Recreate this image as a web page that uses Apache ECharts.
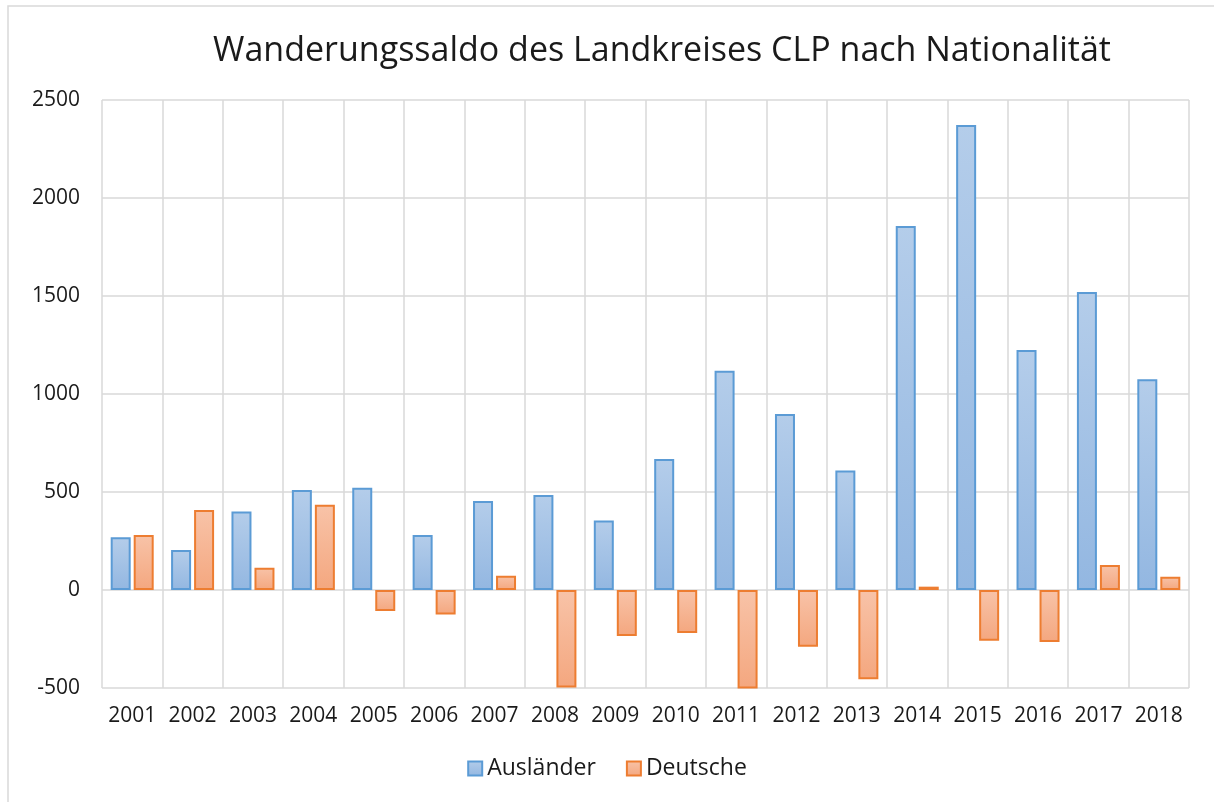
<!DOCTYPE html>
<html>
<head>
<meta charset="utf-8">
<script src="https://cdn.jsdelivr.net/npm/echarts@6/dist/echarts.min.js"></script>
<style>
  html, body { margin: 0; padding: 0; background: #fff; }
  #chart { width: 1214px; height: 802px; }
</style>
</head>
<body>
<div id="chart"></div>
<script>
// Jahre
const years = ['2001', '2002', '2003', '2004', '2005', '2006', '2007', '2008', '2009',
  '2010', '2011', '2012', '2013', '2014', '2015', '2016', '2017', '2018'];
// Wanderungssaldo Ausländer
const auslaender = [269, 204, 400, 510, 522, 281, 454, 485, 354,
  668, 1119, 898, 610, 1857, 2372, 1224, 1520, 1075];
// Wanderungssaldo Deutsche
const deutsche = [281, 408, 114, 435, -107, -125, 73, -498, -235,
  -219, -503, -290, -455, 17, -259, -265, 128, 68];
const yTicks = [-500, 0, 500, 1000, 1500, 2000, 2500];

const font = "'Open Sans', sans-serif";
const gridColor = '#d9d9d9';

function grad(top, bottom) {
  return new echarts.graphic.LinearGradient(0, 0, 0, 1, [
    { offset: 0, color: top },
    { offset: 1, color: bottom }
  ]);
}

const chart = echarts.init(document.getElementById('chart'));
const option = {
  animation: false,
  backgroundColor: '#fff',
  graphic: [{
    type: 'rect',
    shape: { x: 8, y: 6, width: 1230, height: 820 },
    style: { fill: 'none', stroke: '#d9d9d9', lineWidth: 1.5 },
    silent: true
  }],
  title: {
    text: 'Wanderungssaldo des Landkreises CLP nach Nationalität',
    left: 657,
    textAlign: 'center',
    top: 29,
    textStyle: { fontFamily: font, fontWeight: 'normal', fontSize: 34, color: '#1a1a1a' }
  },
  legend: {
    data: ['Ausländer', 'Deutsche'],
    bottom: 17,
    left: 'center',
    icon: 'rect',
    itemWidth: 14,
    itemHeight: 14,
    itemGap: 30,
    textStyle: { fontFamily: font, fontSize: 23, color: '#1a1a1a' }
  },
  grid: { left: 102, right: 25, top: 100, bottom: 114 },
  xAxis: {
    type: 'category',
    data: years,
    axisLine: { show: false },
    axisTick: { show: false },
    axisLabel: { fontFamily: font, fontSize: 21, color: '#1a1a1a', margin: 18, interval: 0 },
    splitLine: { show: true, lineStyle: { color: gridColor, width: 1.5 } }
  },
  yAxis: {
    type: 'value',
    min: yTicks[0],
    max: yTicks[yTicks.length - 1],
    interval: 500,
    axisLine: { show: false },
    axisTick: { show: false },
    axisLabel: {
      fontFamily: font, fontSize: 21, color: '#1a1a1a', margin: 22,
      formatter: function (v) { return String(v); }
    },
    splitLine: { lineStyle: { color: gridColor, width: 1.5 } }
  },
  series: [
    {
      name: 'Ausländer',
      type: 'bar',
      data: auslaender,
      barWidth: 20,
      barGap: '15%',
      clip: false,
      itemStyle: { color: grad('#b4cdea', '#93b7e1'), borderColor: '#5b9bd5', borderWidth: 2 }
    },
    {
      name: 'Deutsche',
      type: 'bar',
      data: deutsche,
      barWidth: 20,
      clip: false,
      itemStyle: { color: grad('#f8c3a8', '#f4a77f'), borderColor: '#ed7d31', borderWidth: 2 }
    }
  ]
};
chart.setOption(option);
</script>
</body>
</html>
